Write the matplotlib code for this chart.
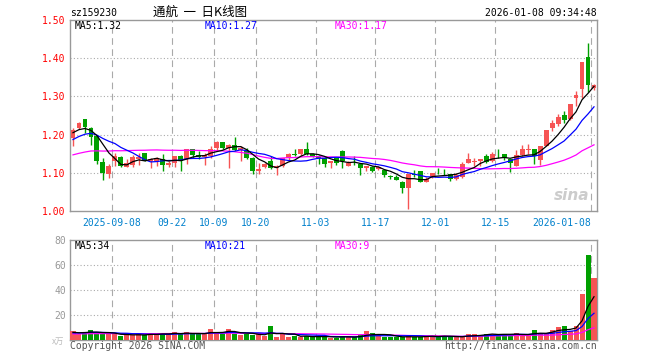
import matplotlib
matplotlib.use('Agg')
import matplotlib.pyplot as plt
import numpy as np
import pandas as pd

W, H = 660, 360

RED = '#f65454'
GREEN = '#00a000'
GRID = '#aaaaaa'

# closes of the month before the window, only used to seed the moving averages
prior_closes = [1.110, 1.118, 1.112, 1.120, 1.115, 1.116,
                1.118, 1.122, 1.115, 1.125, 1.130, 1.128, 1.120, 1.132, 1.138,
                1.135, 1.140, 1.145, 1.148, 1.152,
                1.150, 1.160, 1.170, 1.178, 1.187, 1.191, 1.204, 1.219, 1.198]
prior_volumes = [4.0, 3.5, 4.2, 5.0, 4.5, 3.8, 4.4, 5.2, 4.8, 4.0, 3.6, 4.5, 5.0, 4.2, 4.6,
                 3.9, 4.3, 5.5, 4.7, 4.1, 4.9, 5.3, 4.4, 6.0, 5.5, 6.2, 5.8, 6.5, 5.0]

opens = [1.191, 1.216, 1.242, 1.216, 1.196, 1.128, 1.097, 1.130, 1.141, 1.116,
         1.121, 1.136, 1.152, 1.132, 1.130, 1.137, 1.121, 1.125, 1.145, 1.136,
         1.161, 1.147, 1.141, 1.143, 1.165, 1.181, 1.165, 1.174, 1.159, 1.158,
         1.139, 1.104, 1.116, 1.132, 1.112, 1.118, 1.139, 1.149, 1.150, 1.163,
         1.149, 1.143, 1.139, 1.125, 1.140, 1.156, 1.119, 1.132, 1.123, 1.112,
         1.114, 1.111, 1.108, 1.091, 1.090, 1.075, 1.061, 1.097, 1.105, 1.077,
         1.089, 1.106, 1.102, 1.096, 1.083, 1.089, 1.125, 1.128, 1.130, 1.143,
         1.130, 1.150, 1.150, 1.137, 1.119, 1.146, 1.160, 1.163, 1.134, 1.171,
         1.218, 1.228, 1.251, 1.242, 1.296, 1.320, 1.404, 1.321]
highs = [1.216, 1.233, 1.242, 1.219, 1.199, 1.140, 1.124, 1.151, 1.143, 1.136,
         1.147, 1.153, 1.153, 1.139, 1.141, 1.150, 1.130, 1.145, 1.147, 1.161,
         1.161, 1.156, 1.151, 1.169, 1.182, 1.181, 1.175, 1.195, 1.169, 1.165,
         1.141, 1.125, 1.125, 1.143, 1.121, 1.140, 1.151, 1.161, 1.161, 1.180,
         1.152, 1.147, 1.141, 1.130, 1.140, 1.159, 1.130, 1.145, 1.125, 1.119,
         1.117, 1.117, 1.110, 1.095, 1.095, 1.079, 1.096, 1.108, 1.105, 1.088,
         1.099, 1.112, 1.110, 1.097, 1.099, 1.127, 1.152, 1.139, 1.137, 1.149,
         1.154, 1.162, 1.150, 1.137, 1.159, 1.172, 1.175, 1.163, 1.170, 1.213,
         1.237, 1.254, 1.261, 1.281, 1.314, 1.390, 1.439, 1.332]
lows = [1.169, 1.214, 1.204, 1.172, 1.124, 1.080, 1.086, 1.117, 1.114, 1.114,
        1.114, 1.121, 1.130, 1.112, 1.117, 1.106, 1.114, 1.114, 1.104, 1.124,
        1.139, 1.136, 1.121, 1.139, 1.156, 1.161, 1.112, 1.156, 1.132, 1.136,
        1.097, 1.097, 1.112, 1.111, 1.093, 1.114, 1.134, 1.143, 1.143, 1.147,
        1.141, 1.124, 1.115, 1.112, 1.121, 1.112, 1.117, 1.121, 1.093, 1.104,
        1.101, 1.107, 1.089, 1.084, 1.080, 1.048, 1.004, 1.090, 1.075, 1.075,
        1.086, 1.096, 1.095, 1.079, 1.082, 1.086, 1.125, 1.119, 1.119, 1.125,
        1.127, 1.139, 1.134, 1.101, 1.118, 1.143, 1.149, 1.124, 1.121, 1.169,
        1.209, 1.222, 1.231, 1.239, 1.275, 1.296, 1.312, 1.318]
closes = [1.213, 1.231, 1.219, 1.194, 1.130, 1.099, 1.118, 1.145, 1.117, 1.125,
          1.141, 1.141, 1.132, 1.137, 1.139, 1.121, 1.125, 1.143, 1.130, 1.161,
          1.147, 1.141, 1.146, 1.163, 1.180, 1.165, 1.174, 1.159, 1.165, 1.140,
          1.104, 1.111, 1.123, 1.112, 1.117, 1.140, 1.150, 1.147, 1.161, 1.150,
          1.141, 1.139, 1.124, 1.130, 1.125, 1.130, 1.125, 1.130, 1.112, 1.117,
          1.104, 1.114, 1.095, 1.090, 1.082, 1.060, 1.096, 1.095, 1.077, 1.083,
          1.099, 1.104, 1.101, 1.083, 1.095, 1.124, 1.137, 1.130, 1.136, 1.128,
          1.150, 1.148, 1.139, 1.125, 1.146, 1.161, 1.161, 1.143, 1.169, 1.211,
          1.231, 1.246, 1.239, 1.279, 1.303, 1.389, 1.330, 1.330]
volumes = [7.2, 4.5, 6.7, 8.0, 5.3, 5.3, 4.5, 4.5, 3.2, 4.5,
           4.0, 4.5, 4.0, 5.6, 4.5, 5.6, 4.5, 6.4, 4.5, 6.4,
           4.5, 4.5, 5.6, 8.8, 6.4, 5.0, 8.8, 5.0, 4.0, 5.0,
           4.0, 4.5, 3.5, 11.2, 2.4, 4.5, 2.4, 3.2, 2.4, 3.2,
           2.4, 2.4, 3.2, 1.9, 1.9, 3.2, 2.4, 2.4, 3.7, 7.2,
           5.6, 3.2, 2.4, 2.4, 2.4, 2.4, 3.2, 2.4, 2.2, 3.6,
           3.6, 2.2, 3.6, 2.2, 2.5, 2.5, 5.2, 4.5, 3.6, 5.2,
           5.2, 3.6, 5.2, 3.6, 6.0, 3.6, 3.6, 8.4, 5.6, 5.6,
           8.0, 10.4, 11.2, 7.2, 11.2, 36.8, 68.0, 49.9]

tick_index = [7, 17, 24, 31, 41, 51, 61, 71, 87]
tick_labels = ['2025-09-08', '09-22', '10-09', '10-20', '11-03', '11-17',
               '12-01', '12-15', '2026-01-08']
price_ticks = [1.00, 1.10, 1.20, 1.30, 1.40, 1.50]
volume_ticks = [20, 40, 60, 80]

code = 'sz159230'
title = '通航  一  日K线图'
stamp = '2026-01-08 09:34:48'


def fx(x):
    return x / W


def fy(y):
    return 1 - y / H


def moving_averages(prior, values, windows=(5, 10, 30)):
    s = pd.Series(list(prior) + list(values))
    return [s.rolling(w).mean().iloc[len(prior):].values for w in windows]


def style_axes(ax):
    for sp in ax.spines.values():
        sp.set_color('#999999')
        sp.set_linewidth(1)
    ax.tick_params(length=0)
    ax.set_xlim(-0.5, len(closes) - 0.5)
    for t in tick_index:
        ax.axvline(t - 0.5, color=GRID, lw=0.8, ls=(0, (6, 4)), zorder=0)


plt.rcParams['font.family'] = ['DejaVu Sans Mono', 'Noto Sans CJK SC']
fig = plt.figure(figsize=(W / 100, H / 100), dpi=100)

# ---- price panel
ax = fig.add_axes([fx(70), fy(211), 527 / W, 191 / H])
style_axes(ax)
x = np.arange(len(closes))
o, h, l, c = map(np.array, (opens, highs, lows, closes))
colors = np.where(c >= o, RED, GREEN)
ax.vlines(x, l, h, colors=colors, lw=1, zorder=2)
ax.bar(x, np.maximum(np.abs(c - o), 0.0015), bottom=np.minimum(o, c),
       width=0.82, color=colors, lw=0, zorder=3)
ma5, ma10, ma30 = moving_averages(prior_closes, closes)
ax.plot(x, ma30, color='#ff00ff', lw=0.9, zorder=4)
ax.plot(x, ma10, color='#0000ff', lw=0.9, zorder=4)
ax.plot(x, ma5, color='black', lw=0.9, zorder=4)
ax.set_ylim(price_ticks[0], price_ticks[-1])
for yv in price_ticks[1:-1]:
    ax.axhline(yv, color=GRID, lw=0.8, ls=(0, (1, 2)), zorder=0)
ax.set_yticks(price_ticks)
ax.set_yticklabels(['%.2f' % v for v in price_ticks], color='red', fontsize=7)
ax.tick_params(axis='y', pad=3)
ax.set_xticks([t - 0.5 for t in tick_index])
ax.set_xticklabels(tick_labels, color='#0080cc', fontsize=7)
ax.tick_params(axis='x', pad=5)
ax.get_xticklabels()[-1].set_horizontalalignment('right')
ax.text(0.985, 0.04, 'sina', transform=ax.transAxes, ha='right', va='bottom',
        fontsize=11, fontstyle='italic', fontweight='bold', color='#cccccc',
        family='DejaVu Sans', zorder=1)

# ---- volume panel
av = fig.add_axes([fx(70), fy(340), 527 / W, 100 / H])
style_axes(av)
av.bar(x, volumes, width=0.84, color=colors, lw=0, zorder=3)
v5, v10, v30 = moving_averages(prior_volumes, volumes)
av.plot(x, v30, color='#ff00ff', lw=0.9, zorder=4)
av.plot(x, v10, color='#0000ff', lw=0.9, zorder=4)
av.plot(x, v5, color='black', lw=0.9, zorder=4)
av.set_ylim(0, 80)
for yv in volume_ticks[:-1]:
    av.axhline(yv, color=GRID, lw=0.8, ls=(0, (1, 2)), zorder=0)
av.set_yticks(volume_ticks)
av.set_yticklabels([str(v) for v in volume_ticks], color='#999999', fontsize=7)
av.tick_params(axis='y', pad=3)
av.set_xticks([])

# ---- header / legend texts
fig.text(fx(70), fy(13), code, fontsize=7, va='center', ha='left')
fig.text(fx(200), fy(12), title, fontsize=9, va='center', ha='center',
         family=['Noto Sans CJK SC', 'DejaVu Sans'])
fig.text(fx(597), fy(13), stamp, fontsize=7, va='center', ha='right')

fig.text(fx(75), fy(26), 'MA5:1.32', fontsize=7, va='center', color='black')
fig.text(fx(205), fy(26), 'MA10:1.27', fontsize=7, va='center', color='#0000ff')
fig.text(fx(335), fy(26), 'MA30:1.17', fontsize=7, va='center', color='#ff00ff')

fig.text(fx(75), fy(246), 'MA5:34', fontsize=7, va='center', color='black')
fig.text(fx(205), fy(246), 'MA10:21', fontsize=7, va='center', color='#0000ff')
fig.text(fx(335), fy(246), 'MA30:9', fontsize=7, va='center', color='#ff00ff')

fig.text(fx(64), fy(341), 'x万', fontsize=6, va='center', ha='right', color='#bbbbbb',
         family=['Noto Sans CJK SC', 'DejaVu Sans'])
fig.text(fx(70), fy(346), 'Copyright 2026 SINA.COM', fontsize=7, va='center',
         ha='left', color='#555555')
fig.text(fx(597), fy(346), 'http://finance.sina.com.cn', fontsize=7, va='center',
         ha='right', color='#555555')

fig.savefig('out.png', dpi=100)
